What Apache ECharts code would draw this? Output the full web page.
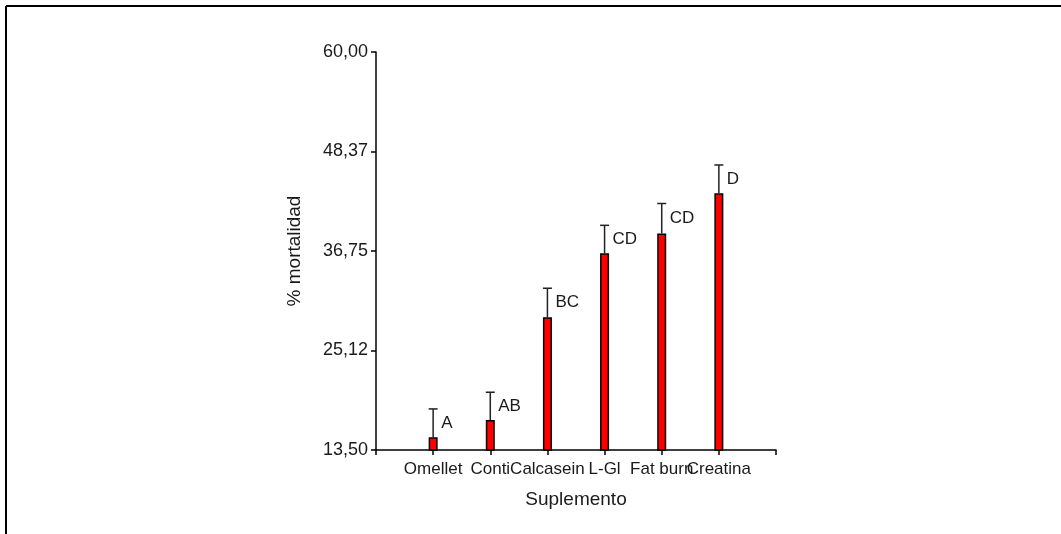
<!DOCTYPE html>
<html>
<head>
<meta charset="utf-8">
<title>% mortalidad por suplemento</title>
<script src="https://cdn.jsdelivr.net/npm/echarts@6/dist/echarts.min.js"></script>
<style>
  html, body { margin: 0; padding: 0; background: #fff; }
  #chart { width: 1061px; height: 534px; }
</style>
</head>
<body>
<div id="chart"></div>
<script>
// Mean mortality (%) per supplement, with standard error and significance groups
const categories = ['Omellet', 'Conti', 'Calcasein', 'L-Gl', 'Fat burn', 'Creatina'];
const mortality = [15.0, 17.0, 29.0, 36.5, 38.8, 43.5];
const stdError = [3.3, 3.25, 3.4, 3.25, 3.5, 3.3];
const groupLetters = ['A', 'AB', 'BC', 'CD', 'CD', 'D'];
const yTickValues = [13.5, 25.125, 36.75, 48.375, 60];
const yTickLabels = ['13,50', '25,12', '36,75', '48,37', '60,00'];

const FONT = '"Liberation Sans", Arial, sans-serif';
const TEXT = '#1a1a1a';

const chart = echarts.init(document.getElementById('chart'), null, { renderer: 'canvas' });

const barData = categories.map((c, i) => [i + 1, mortality[i]]);
const errData = categories.map((c, i) => [i + 1, mortality[i], stdError[i]]);

chart.setOption({
  animation: false,
  backgroundColor: '#fff',
  grid: { left: 376, right: 285, top: 52, bottom: 84, containLabel: false, outerBoundsMode: 'none' },
  graphic: [
    { type: 'line', shape: { x1: 6, y1: 6, x2: 1061, y2: 6 }, style: { stroke: '#000', lineWidth: 2 } },
    { type: 'line', shape: { x1: 6, y1: 6, x2: 6, y2: 534 }, style: { stroke: '#000', lineWidth: 2 } }
  ],
  xAxis: {
    type: 'value',
    min: 0,
    max: categories.length + 1,
    interval: 1,
    name: 'Suplemento',
    nameLocation: 'middle',
    nameGap: 40,
    nameTextStyle: { fontFamily: FONT, fontSize: 19, color: TEXT },
    splitLine: { show: false },
    axisLine: { show: true, lineStyle: { color: '#000', width: 1.5 } },
    axisTick: { show: true, length: 5, lineStyle: { color: '#000', width: 1.5 } },
    axisLabel: {
      margin: 11,
      fontFamily: FONT,
      fontSize: 17,
      color: TEXT,
      showMinLabel: true,
      showMaxLabel: true,
      formatter: v => (v >= 1 && v <= categories.length ? categories[v - 1] : '')
    }
  },
  yAxis: {
    type: 'value',
    min: yTickValues[0],
    max: yTickValues[yTickValues.length - 1],
    name: '% mortalidad',
    nameLocation: 'middle',
    nameRotate: 90,
    nameGap: 72,
    nameTextStyle: { fontFamily: FONT, fontSize: 19, color: TEXT },
    splitLine: { show: false },
    axisLine: { show: true, lineStyle: { color: '#000', width: 1.5 } },
    axisTick: { show: true, length: 5, customValues: yTickValues, lineStyle: { color: '#000', width: 1.5 } },
    axisLabel: {
      margin: 8,
      fontFamily: FONT,
      fontSize: 18,
      color: TEXT,
      customValues: yTickValues,
      formatter: v => {
        const i = yTickValues.findIndex(t => Math.abs(t - v) < 1e-6);
        return i >= 0 ? yTickLabels[i] : '';
      }
    }
  },
  series: [
    {
      type: 'bar',
      data: barData,
      barWidth: 9,
      clip: true,
      itemStyle: { color: '#ff0000', borderColor: '#000', borderWidth: 1.5 }
    },
    {
      type: 'custom',
      data: errData,
      z: 3,
      renderItem: (params, api) => {
        const x = api.value(0);
        const m = api.value(1);
        const se = api.value(2);
        const base = api.coord([x, m]);
        const top = api.coord([x, m + se]);
        const half = 4.5;
        return {
          type: 'group',
          children: [
            { type: 'line', shape: { x1: base[0], y1: base[1], x2: top[0], y2: top[1] }, style: { stroke: '#222', lineWidth: 1.5 } },
            { type: 'line', shape: { x1: top[0] - half, y1: top[1], x2: top[0] + half, y2: top[1] }, style: { stroke: '#222', lineWidth: 1.5 } },
            {
              type: 'text',
              x: top[0] + 8,
              y: (base[1] + top[1]) / 2,
              style: {
                text: groupLetters[params.dataIndex],
                fill: TEXT,
                font: '17px ' + FONT,
                align: 'left',
                verticalAlign: 'middle'
              }
            }
          ]
        };
      }
    }
  ]
});
</script>
</body>
</html>
